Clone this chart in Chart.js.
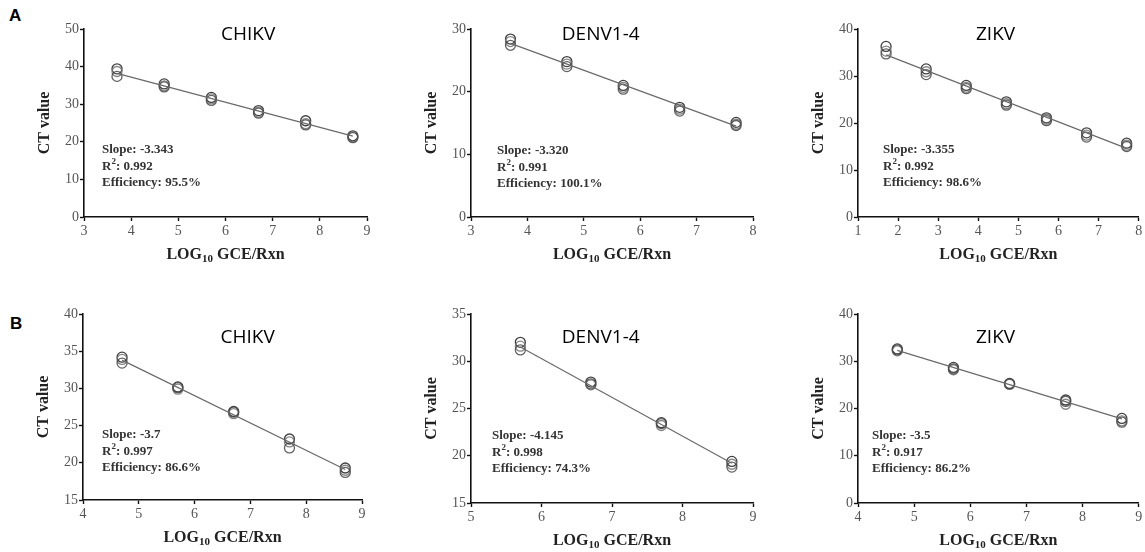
<!DOCTYPE html>
<html>
<head>
<meta charset="utf-8">
<script src="https://cdn.jsdelivr.net/npm/chart.js@4"></script>
<style>
  html, body { margin: 0; padding: 0; background: #fff; }
  #wrap { position: relative; width: 1145px; height: 552px; overflow: hidden; }
  canvas { position: absolute; }
  .tag { position: absolute; font: bold 17px "Liberation Sans", Arial, sans-serif; color: #000; }
</style>
</head>
<body>
<div id="wrap">
  <div class="tag" style="left:9px; top:6px;">A</div>
  <div class="tag" style="left:10px; top:314px;">B</div>
</div>
<script>
// ---- data ----
// row A
const chikvA_x = [3.7, 4.7, 5.7, 6.7, 7.7, 8.7];
const chikvA_ct = [[39.4, 38.7, 37.4], [35.4, 34.9, 34.6], [31.8, 31.4, 31.0], [28.3, 27.9, 27.6], [25.6, 24.8, 24.5], [21.6, 21.3, 21.1]];
const chikvA_fit = [38.2, 21.5];

const denvA_x = [3.7, 4.7, 5.7, 6.7, 7.7];
const denvA_ct = [[28.4, 28.0, 27.4], [24.8, 24.4, 24.0], [21.0, 20.7, 20.4], [17.5, 17.2, 16.9], [15.1, 14.8, 14.6]];
const denvA_fit = [27.7, 14.5];

const zikvA_x = [1.7, 2.7, 3.7, 4.7, 5.7, 6.7, 7.7];
const zikvA_ct = [[36.3, 35.3, 34.7], [31.5, 30.9, 30.3], [28.0, 27.6, 27.3], [24.5, 24.1, 23.8], [21.1, 20.8, 20.5], [17.9, 17.4, 17.0], [15.7, 15.3, 15.0]];
const zikvA_fit = [34.5, 14.6];

// row B
const chikvB_x = [4.7, 5.7, 6.7, 7.7, 8.7];
const chikvB_ct = [[34.2, 33.9, 33.4], [30.2, 29.9, 30.1], [26.9, 26.6, 26.8], [23.2, 22.8, 22.0], [19.3, 19.0, 18.7]];
const chikvB_fit = [33.8, 19.1];

const denvB_x = [5.7, 6.7, 7.7, 8.7];
const denvB_ct = [[32.0, 31.6, 31.2], [27.8, 27.5, 27.6], [23.5, 23.2, 23.4], [19.4, 19.1, 18.8]];
const denvB_fit = [31.5, 19.2];

const zikvB_x = [4.7, 5.7, 6.7, 7.7, 8.7];
const zikvB_ct = [[32.6, 32.2, 32.4], [28.7, 28.2, 28.4], [25.3, 25.1, 25.2], [21.8, 20.9, 21.5], [17.9, 17.4, 17.1]];
const zikvB_fit = [32.3, 17.8];

const virusNames = ['CHIKV', 'DENV1-4', 'ZIKV', 'CHIKV', 'DENV1-4', 'ZIKV'];
const slopeLabels = ['-3.343', '-3.320', '-3.355', '-3.7', '-4.145', '-3.5'];
const r2Labels = ['0.992', '0.991', '0.992', '0.997', '0.998', '0.917'];
const effLabels = ['95.5%', '100.1%', '98.6%', '86.6%', '74.3%', '86.2%'];
const xRanges = [[3, 9], [3, 8], [1, 8], [4, 9], [5, 9], [4, 9]];
const yRanges = [[0, 50, 10], [0, 30, 10], [0, 40, 10], [15, 40, 5], [15, 35, 5], [0, 40, 10]];

// ---- layout for each panel: canvas rect and plot-area rect (page px) ----
const panels = [
    {x: chikvA_x, ct: chikvA_ct, fit: chikvA_fit, cv: [0, 0, 380, 270],     box: [84, 29, 367, 217],   titleFx: 0.58, titleDy: 6,  statsDx: 18, statsY: 150},
    {x: denvA_x,  ct: denvA_ct,  fit: denvA_fit,  cv: [380, 0, 380, 270],   box: [471, 29, 753, 217],  titleFx: 0.46, titleDy: 6,  statsDx: 26, statsY: 151},
    {x: zikvA_x,  ct: zikvA_ct,  fit: zikvA_fit,  cv: [760, 0, 385, 270],   box: [858, 29, 1140, 217], titleFx: 0.49, titleDy: 6,  statsDx: 25, statsY: 150},
    {x: chikvB_x, ct: chikvB_ct, fit: chikvB_fit, cv: [0, 270, 380, 282],   box: [83, 314, 362, 500],  titleFx: 0.59, titleDy: 24, statsDx: 19, statsY: 435},
    {x: denvB_x,  ct: denvB_ct,  fit: denvB_fit,  cv: [380, 270, 380, 282], box: [471, 314, 753, 503], titleFx: 0.46, titleDy: 24, statsDx: 21, statsY: 436},
    {x: zikvB_x,  ct: zikvB_ct,  fit: zikvB_fit,  cv: [760, 270, 385, 282], box: [858, 314, 1139, 503], titleFx: 0.49, titleDy: 24, statsDx: 14, statsY: 436}
];

const serif = '"Liberation Serif", "Times New Roman", serif';
const repColors = ['rgba(30,30,30,0.85)', 'rgba(110,110,110,0.85)', 'rgba(70,70,70,0.85)'];

const textPlugin = {
    id: 'panelText',
    afterDraw(chart) {
        const o = chart.options.plugins.panelText;
        const a = chart.chartArea;
        const ctx = chart.ctx;
        ctx.save();
        // panel title
        ctx.fillStyle = '#000';
        ctx.font = '19px "Open Sans", "Liberation Sans", sans-serif';
        ctx.textAlign = 'center';
        ctx.textBaseline = 'middle';
        ctx.fillText(o.name, a.left + o.titleFx * (a.right - a.left), a.top + o.titleDy);

        // stats
        ctx.fillStyle = '#333';
        ctx.textAlign = 'left';
        ctx.font = 'bold 13px ' + serif;
        const sx = a.left + o.statsDx;
        const sy = o.statsY - o.top;
        ctx.fillText('Slope: ' + o.slope, sx, sy);
        ctx.fillText('R', sx, sy + 16.5);
        let w = ctx.measureText('R').width;
        ctx.font = 'bold 9px ' + serif;
        ctx.fillText('2', sx + w, sy + 12);
        w += ctx.measureText('2').width;
        ctx.font = 'bold 13px ' + serif;
        ctx.fillText(': ' + o.r2, sx + w, sy + 16.5);
        ctx.fillText('Efficiency: ' + o.eff, sx, sy + 33);

        // y axis title
        ctx.fillStyle = '#222';
        ctx.font = 'bold 16px ' + serif;
        ctx.textAlign = 'center';
        ctx.translate(a.left - 39, (a.top + a.bottom) / 2);
        ctx.rotate(-Math.PI / 2);
        ctx.fillText('CT value', 0, 0);
        ctx.setTransform(1, 0, 0, 1, 0, 0);

        // x axis title with subscript
        ctx.textAlign = 'left';
        ctx.font = 'bold 16px ' + serif;
        const p1 = 'LOG', p3 = ' GCE/Rxn';
        const w1 = ctx.measureText(p1).width, w3 = ctx.measureText(p3).width;
        ctx.font = 'bold 11px ' + serif;
        const w2 = ctx.measureText('10').width;
        let tx = (a.left + a.right) / 2 - (w1 + w2 + w3) / 2;
        const ty = a.bottom + 38;
        ctx.font = 'bold 16px ' + serif;
        ctx.fillText(p1, tx, ty);
        ctx.font = 'bold 11px ' + serif;
        ctx.fillText('10', tx + w1, ty + 4);
        ctx.font = 'bold 16px ' + serif;
        ctx.fillText(p3, tx + w1 + w2, ty);
        ctx.restore();
    }
};

const wrap = document.getElementById('wrap');

panels.forEach((p, i) => {
    const [cl, ct, cw, ch] = p.cv;
    const [bl, bt, br, bb] = p.box;
    const cv = document.createElement('canvas');
    cv.width = cw;
    cv.height = ch;
    cv.style.left = cl + 'px';
    cv.style.top = ct + 'px';
    cv.style.width = cw + 'px';
    cv.style.height = ch + 'px';
    wrap.appendChild(cv);

    // scatter points from replicate arrays
    const pts = [], cols = [];
    p.x.forEach((xv, k) => {
        p.ct[k].forEach((yv, r) => {
            pts.push({x: xv, y: yv});
            cols.push(repColors[r % repColors.length]);
        });
    });
    const fitLine = [{x: p.x[0], y: p.fit[0]}, {x: p.x[p.x.length - 1], y: p.fit[1]}];

    new Chart(cv, {
        type: 'scatter',
        data: {
            datasets: [{
                type: 'line',
                data: fitLine,
                borderColor: '#6a6a6a',
                borderWidth: 1.2,
                pointRadius: 0,
                fill: false
            }, {
                data: pts,
                pointRadius: 5,
                pointBorderWidth: 1.3,
                pointBorderColor: cols,
                pointBackgroundColor: 'rgba(255,255,255,0)',
                showLine: false
            }]
        },
        options: {
            responsive: false,
            animation: false,
            devicePixelRatio: 1,
            clip: false,
            layout: {padding: {left: 0, top: bt - ct, right: cl + cw - br, bottom: 0}},
            plugins: {
                legend: {display: false},
                tooltip: {enabled: false},
                panelText: {
                    name: virusNames[i], slope: slopeLabels[i], r2: r2Labels[i], eff: effLabels[i],
                    titleFx: p.titleFx, titleDy: p.titleDy, statsDx: p.statsDx, statsY: p.statsY, top: ct
                }
            },
            scales: {
                x: {
                    type: 'linear',
                    min: xRanges[i][0],
                    max: xRanges[i][1],
                    afterFit: s => { s.height = ct + ch - bb; },
                    border: {display: true, color: '#111', width: 1.6},
                    grid: {display: true, drawOnChartArea: false, drawTicks: true, tickLength: 4, tickColor: '#111', tickWidth: 1.4},
                    ticks: {stepSize: 1, autoSkip: false, maxRotation: 0, padding: 2, color: '#555', font: {family: serif, size: 14}}
                },
                y: {
                    type: 'linear',
                    min: yRanges[i][0],
                    max: yRanges[i][1],
                    afterFit: s => { s.width = bl - cl; },
                    border: {display: true, color: '#111', width: 1.6},
                    grid: {display: true, drawOnChartArea: false, drawTicks: true, tickLength: 4, tickColor: '#111', tickWidth: 1.4},
                    ticks: {stepSize: yRanges[i][2], autoSkip: false, padding: 1, color: '#555', font: {family: serif, size: 14}}
                }
            }
        },
        plugins: [textPlugin]
    });
});
</script>
</body>
</html>
